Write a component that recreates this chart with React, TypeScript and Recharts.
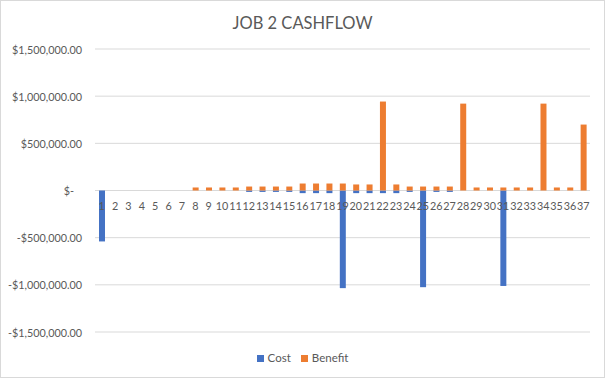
import { BarChart, Bar, Line, XAxis, YAxis, CartesianGrid } from 'recharts'

// Periods 1..37
const categories = [
  '1', '2', '3', '4', '5', '6', '7', '8', '9', '10', '11', '12', '13', '14', '15', '16', '17', '18', '19',
  '20', '21', '22', '23', '24', '25', '26', '27', '28', '29', '30', '31', '32', '33', '34', '35', '36', '37',
]

const cost = [
  -540000, 0, 0, 0, 0, 0, 0, 0, 0, 0, 0, -15000, -15000, -15000, -15000, -28000, -28000, -28000, -1035000,
  -28000, -28000, -28000, -28000, -15000, -1025000, -15000, -15000, 0, 0, 0, -1012000, 0, 0, 0, 0, 0, 0,
]

const benefit = [
  0, 0, 0, 0, 0, 0, 0, 32000, 32000, 32000, 32000, 42000, 42000, 42000, 42000, 74000, 74000, 74000, 74000,
  64000, 64000, 943000, 64000, 42000, 42000, 42000, 42000, 921000, 32000, 32000, 32000, 32000, 32000, 921000, 32000, 32000, 699000,
]

const yTicks = [-1500000, -1000000, -500000, 0, 500000, 1000000, 1500000]

const series = [
  { key: 'Cost', color: '#4472C4' },
  { key: 'Benefit', color: '#ED7D31' },
]

const FONT = 'Lato, "DejaVu Sans", sans-serif'
const TEXT = '#595959'

const data = categories.map((name, i) => ({
  name,
  Cost: cost[i],
  Benefit: benefit[i],
  zero: 0,
}))

function formatMoney(value: number): string {
  if (value === 0) return '$-'
  const s = '$' + Math.abs(value).toLocaleString('en-US', { minimumFractionDigits: 2, maximumFractionDigits: 2 })
  return value < 0 ? '-' + s : s
}

const YTick = ({ x, y, payload }: any) => (
  <text
    x={payload.value === 0 ? x - 8 : x}
    y={y}
    textAnchor="end"
    dominantBaseline="central"
    fill={TEXT}
    fontSize={10.8}
    fontFamily={FONT}
  >
    {formatMoney(payload.value)}
  </text>
)

// category labels sit just under the zero line, like Excel's axis crossing
const CatLabel = ({ x, y, index }: any) => (
  <text
    x={x}
    y={y + 15}
    textAnchor="middle"
    dominantBaseline="central"
    fill={TEXT}
    fontSize={10.8}
    fontFamily={FONT}
  >
    {categories[index]}
  </text>
)

export default function App() {
  return (
    <div
      style={{
        position: 'absolute',
        left: 0,
        top: 0,
        width: 605,
        height: 378,
        boxSizing: 'border-box',
        border: '1px solid #d9d9d9',
        background: '#fff',
        fontFamily: FONT,
      }}
    >
      <div
        style={{
          position: 'absolute',
          top: 10,
          left: 0,
          width: 603,
          textAlign: 'center',
          fontSize: 16.5,
          lineHeight: '24px',
          color: TEXT,
        }}
      >
        JOB 2 CASHFLOW
      </div>
      <BarChart
        width={603}
        height={376}
        data={data}
        stackOffset="sign"
        margin={{ top: 48, right: 14, bottom: 45, left: 0 }}
      >
        <CartesianGrid vertical={false} stroke="#d9d9d9" />
        <XAxis dataKey="name" hide />
        <YAxis
          width={94}
          domain={[-1500000, 1500000]}
          ticks={yTicks}
          axisLine={false}
          tickLine={false}
          tick={<YTick />}
          tickMargin={7}
          interval={0}
        />
        <Bar dataKey="Cost" stackId="a" fill="#4472C4" barSize={6} isAnimationActive={false} />
        <Bar dataKey="Benefit" stackId="a" fill="#ED7D31" barSize={6} isAnimationActive={false} />
        <Line
          dataKey="zero"
          stroke="none"
          dot={false}
          activeDot={false}
          legendType="none"
          label={<CatLabel />}
          isAnimationActive={false}
        />
      </BarChart>
      <div
        style={{
          position: 'absolute',
          top: 349,
          left: 0,
          width: 603,
          display: 'flex',
          justifyContent: 'center',
          gap: 10,
          fontSize: 11.5,
          lineHeight: '16px',
          color: TEXT,
        }}
      >
        {series.map((s) => (
          <span key={s.key} style={{ display: 'flex', alignItems: 'center' }}>
            <span style={{ width: 7, height: 7, background: s.color, marginRight: 4 }} />
            {s.key}
          </span>
        ))}
      </div>
    </div>
  )
}
